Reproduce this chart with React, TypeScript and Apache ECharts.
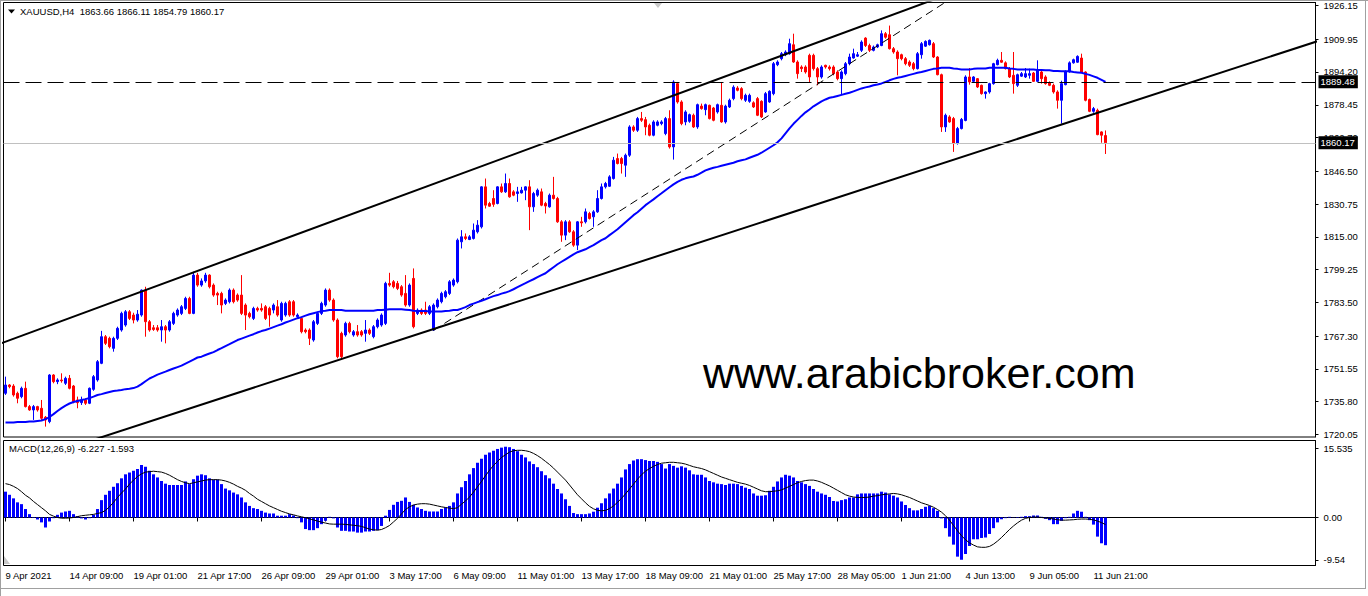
import React, { useEffect, useRef } from "react";
import * as echarts from "echarts";

// ---------------- data ----------------
const symbolName = "XAUUSD,H4";

const open = [
  1739.8, 1743.8, 1743.3, 1739.8, 1738.2, 1742.2, 1733.4, 1731.8, 1733.4, 1732.6,
  1728.3, 1726.2, 1748.6, 1745.4, 1746.2, 1744.6, 1747.0, 1743.3, 1736.6, 1735.3,
  1736.6, 1735.0, 1741.7, 1746.2, 1754.2, 1767.0, 1766.2, 1761.4, 1766.2, 1770.2,
  1772.6, 1779.0, 1777.4, 1775.0, 1777.4, 1789.4, 1774.2, 1771.3, 1771.3, 1770.2,
  1771.8, 1770.2, 1773.4, 1777.4, 1778.2, 1780.6, 1785.4, 1778.2, 1796.6, 1791.8,
  1793.8, 1796.6, 1791.8, 1787.8, 1787.8, 1783.0, 1783.8, 1789.4, 1787.0, 1787.0,
  1782.2, 1778.2, 1775.8, 1780.6, 1780.6, 1781.4, 1780.6, 1779.8, 1781.4, 1775.0,
  1777.4, 1783.8, 1783.8, 1776.6, 1775.8, 1770.2, 1770.2, 1765.4, 1773.4, 1778.2,
  1782.2, 1789.4, 1784.6, 1775.0, 1768.6, 1767.8, 1773.4, 1767.8, 1769.4, 1769.4,
  1768.6, 1770.2, 1767.0, 1771.8, 1772.6, 1773.4, 1792.6, 1793.4, 1792.6, 1791.0,
  1787.8, 1782.2, 1795.0, 1778.2, 1779.8, 1779.8, 1778.2, 1770.2, 1781.4, 1783.8,
  1786.2, 1787.8, 1791.8, 1793.4, 1812.6, 1815.0, 1813.7, 1814.2, 1817.4, 1819.8,
  1839.0, 1831.0, 1833.4, 1831.0, 1839.0, 1836.6, 1840.6, 1836.6, 1835.8, 1836.1,
  1837.4, 1839.0, 1829.4, 1835.0, 1836.6, 1831.0, 1829.4, 1835.0, 1833.4, 1822.2,
  1815.8, 1822.2, 1817.4, 1811.0, 1822.2, 1822.2, 1826.2, 1824.6, 1827.0, 1833.4,
  1839.0, 1839.3, 1843.0, 1852.6, 1852.6, 1849.4, 1854.2, 1867.8, 1866.2, 1871.8,
  1871.3, 1868.6, 1863.8, 1868.6, 1869.4, 1864.6, 1871.8, 1858.2, 1888.6, 1879.8,
  1870.2, 1870.5, 1873.4, 1867.8, 1877.8, 1876.1, 1878.2, 1876.9, 1875.0, 1878.2,
  1870.2, 1877.4, 1881.4, 1886.5, 1886.2, 1880.6, 1880.1, 1879.4, 1881.4, 1880.1,
  1875.0, 1879.8, 1883.8, 1897.7, 1900.6, 1902.5, 1903.0, 1907.3, 1899.0, 1896.6,
  1896.6, 1902.2, 1902.2, 1895.8, 1891.8, 1897.4, 1896.6, 1896.6, 1894.2, 1891.0,
  1893.4, 1898.2, 1900.9, 1901.8, 1904.6, 1910.5, 1906.9, 1904.6, 1906.2, 1906.9,
  1912.6, 1912.1, 1905.4, 1903.8, 1902.5, 1900.6, 1899.0, 1898.2, 1895.8, 1902.5,
  1906.6, 1907.3, 1907.8, 1901.4, 1892.9, 1867.8, 1872.6, 1871.8, 1859.8, 1867.0,
  1870.9, 1891.8, 1889.7, 1891.0, 1887.8, 1883.8, 1884.6, 1888.6, 1897.7, 1899.8,
  1898.6, 1895.8, 1892.6, 1887.8, 1892.2, 1891.8, 1892.6, 1893.7, 1889.7, 1894.2,
  1891.8, 1889.0, 1887.8, 1884.6, 1880.6, 1888.1, 1894.2, 1898.6, 1898.9, 1900.9,
  1894.2, 1881.0, 1875.3, 1875.8, 1865.4, 1863.66,
];

const high = [
  1747.8, 1744.2, 1744.2, 1740.6, 1743.0, 1745.4, 1734.2, 1734.2, 1733.8, 1736.6,
  1728.9, 1749.0, 1749.0, 1747.0, 1749.4, 1747.8, 1748.6, 1743.8, 1738.2, 1738.2,
  1737.4, 1742.6, 1748.6, 1755.8, 1769.8, 1767.8, 1767.0, 1767.0, 1771.8, 1779.0,
  1779.8, 1779.8, 1778.5, 1779.8, 1789.7, 1791.0, 1775.0, 1772.6, 1772.6, 1775.0,
  1772.6, 1775.0, 1779.0, 1780.6, 1782.2, 1786.2, 1786.2, 1798.2, 1797.7, 1795.0,
  1797.7, 1797.0, 1792.6, 1788.6, 1788.6, 1785.4, 1790.2, 1790.2, 1787.8, 1796.6,
  1783.0, 1779.0, 1781.4, 1781.4, 1783.0, 1782.2, 1781.4, 1783.0, 1784.6, 1783.8,
  1783.8, 1784.6, 1784.6, 1778.2, 1776.6, 1771.0, 1771.0, 1775.0, 1779.0, 1783.8,
  1790.2, 1790.2, 1785.4, 1775.8, 1769.4, 1774.2, 1774.2, 1770.2, 1772.6, 1770.2,
  1775.0, 1771.0, 1772.6, 1775.8, 1778.2, 1793.4, 1797.7, 1794.2, 1793.8, 1791.8,
  1796.6, 1792.6, 1799.8, 1780.6, 1780.6, 1783.8, 1782.2, 1783.0, 1785.4, 1788.6,
  1789.4, 1794.2, 1795.0, 1814.2, 1818.2, 1816.6, 1815.8, 1821.4, 1823.0, 1839.3,
  1843.0, 1831.8, 1837.4, 1839.3, 1840.6, 1845.4, 1843.0, 1837.4, 1839.0, 1839.0,
  1839.3, 1842.2, 1836.6, 1838.2, 1838.2, 1831.8, 1835.8, 1843.8, 1834.2, 1823.0,
  1823.0, 1823.0, 1818.2, 1822.6, 1824.6, 1828.6, 1827.0, 1827.8, 1837.4, 1840.6,
  1841.4, 1844.6, 1853.4, 1855.0, 1853.4, 1855.0, 1868.6, 1868.6, 1872.6, 1875.0,
  1872.6, 1869.4, 1871.0, 1871.0, 1871.0, 1872.6, 1875.8, 1890.2, 1889.4, 1880.6,
  1875.8, 1874.2, 1874.2, 1879.0, 1879.0, 1879.0, 1878.5, 1877.4, 1879.0, 1889.4,
  1878.5, 1881.4, 1887.8, 1887.4, 1886.9, 1883.8, 1883.8, 1880.1, 1882.2, 1880.6,
  1884.6, 1885.4, 1899.0, 1899.8, 1903.8, 1904.6, 1910.2, 1912.6, 1899.8, 1897.4,
  1897.4, 1903.0, 1903.0, 1896.6, 1897.4, 1897.7, 1897.4, 1897.4, 1895.0, 1895.0,
  1899.0, 1903.0, 1905.4, 1903.8, 1909.4, 1910.9, 1907.8, 1906.9, 1907.8, 1914.2,
  1913.4, 1916.5, 1906.2, 1904.6, 1903.0, 1901.4, 1899.8, 1899.0, 1903.8, 1908.6,
  1909.4, 1909.8, 1908.6, 1901.8, 1893.4, 1874.2, 1873.4, 1872.6, 1867.8, 1872.1,
  1892.6, 1896.1, 1892.2, 1891.3, 1888.1, 1884.9, 1889.0, 1898.6, 1900.6, 1903.8,
  1899.3, 1896.6, 1903.8, 1893.4, 1894.2, 1896.1, 1895.8, 1894.2, 1899.8, 1894.9,
  1892.6, 1889.7, 1888.6, 1885.4, 1890.0, 1895.0, 1899.3, 1900.6, 1902.2, 1903.0,
  1894.5, 1881.4, 1877.4, 1876.6, 1865.7, 1866.11,
];

const low = [
  1739.0, 1742.2, 1738.2, 1735.0, 1737.4, 1733.0, 1731.4, 1727.0, 1731.0, 1727.0,
  1723.8, 1725.4, 1744.6, 1744.2, 1744.9, 1743.8, 1741.7, 1735.0, 1732.6, 1734.2,
  1734.2, 1734.6, 1741.0, 1745.4, 1753.8, 1763.0, 1761.4, 1759.8, 1765.4, 1769.4,
  1771.8, 1775.0, 1773.4, 1774.2, 1776.6, 1767.0, 1769.4, 1769.8, 1769.4, 1764.6,
  1763.8, 1769.4, 1772.6, 1776.6, 1777.4, 1779.8, 1777.8, 1777.8, 1791.0, 1791.0,
  1792.9, 1790.2, 1786.2, 1782.2, 1778.2, 1782.2, 1783.0, 1783.0, 1783.8, 1777.4,
  1770.2, 1775.8, 1775.0, 1779.0, 1779.0, 1775.0, 1771.8, 1778.2, 1776.6, 1774.2,
  1776.6, 1776.6, 1776.6, 1775.8, 1768.6, 1768.6, 1763.0, 1764.6, 1772.6, 1777.4,
  1781.4, 1783.8, 1774.2, 1756.6, 1755.8, 1767.0, 1768.6, 1767.0, 1767.0, 1767.0,
  1764.6, 1767.8, 1766.2, 1771.0, 1771.8, 1772.6, 1791.0, 1790.2, 1789.4, 1786.2,
  1781.4, 1781.4, 1771.0, 1777.4, 1777.4, 1777.4, 1777.4, 1769.8, 1780.6, 1783.0,
  1785.4, 1787.0, 1791.0, 1792.6, 1809.4, 1813.4, 1813.4, 1813.7, 1816.6, 1819.0,
  1828.6, 1829.4, 1829.4, 1830.6, 1836.1, 1836.1, 1833.8, 1834.5, 1831.8, 1835.8,
  1832.6, 1818.2, 1827.0, 1834.2, 1829.7, 1826.2, 1829.0, 1832.9, 1821.7, 1812.6,
  1813.4, 1816.9, 1810.2, 1808.6, 1819.8, 1821.4, 1823.3, 1819.8, 1826.5, 1832.9,
  1838.2, 1839.0, 1842.5, 1849.8, 1845.4, 1843.8, 1853.4, 1865.4, 1865.4, 1870.2,
  1863.8, 1863.3, 1863.3, 1868.1, 1868.6, 1863.8, 1857.4, 1852.1, 1879.0, 1868.6,
  1868.6, 1869.8, 1867.3, 1866.9, 1876.1, 1873.4, 1871.4, 1870.5, 1874.2, 1869.8,
  1869.4, 1876.9, 1880.6, 1884.9, 1880.6, 1879.8, 1879.4, 1876.9, 1873.0, 1872.1,
  1874.6, 1879.4, 1883.0, 1897.0, 1899.8, 1901.8, 1902.5, 1898.6, 1891.0, 1894.2,
  1893.4, 1889.4, 1894.9, 1887.8, 1891.0, 1895.8, 1894.9, 1892.6, 1890.2, 1883.0,
  1892.6, 1897.4, 1900.6, 1901.4, 1903.8, 1906.2, 1903.8, 1904.1, 1905.7, 1906.6,
  1910.2, 1905.0, 1903.0, 1892.6, 1899.8, 1897.4, 1896.6, 1895.0, 1895.4, 1900.6,
  1906.2, 1906.9, 1900.9, 1892.6, 1865.4, 1865.4, 1869.8, 1855.8, 1859.3, 1866.6,
  1870.5, 1888.1, 1889.4, 1886.5, 1883.3, 1881.4, 1883.8, 1888.1, 1897.4, 1898.6,
  1895.4, 1891.3, 1883.8, 1887.0, 1891.8, 1891.3, 1891.0, 1889.4, 1889.4, 1888.6,
  1888.1, 1887.4, 1883.8, 1876.6, 1869.4, 1887.8, 1893.9, 1898.2, 1898.6, 1893.9,
  1880.1, 1874.9, 1874.6, 1863.8, 1860.2, 1854.79,
];

const close = [
  1743.8, 1743.0, 1739.0, 1737.4, 1742.2, 1733.4, 1731.8, 1733.4, 1731.8, 1727.8,
  1727.0, 1748.6, 1745.4, 1746.2, 1745.8, 1747.0, 1742.2, 1735.8, 1735.3, 1736.6,
  1735.0, 1742.2, 1747.8, 1755.0, 1767.0, 1763.8, 1762.2, 1766.2, 1771.0, 1778.2,
  1779.0, 1775.8, 1775.0, 1777.8, 1789.4, 1774.2, 1770.2, 1770.5, 1770.2, 1771.8,
  1770.2, 1774.2, 1778.2, 1779.8, 1781.4, 1785.4, 1778.2, 1796.6, 1791.8, 1793.8,
  1796.6, 1791.0, 1787.0, 1787.0, 1782.2, 1784.6, 1789.4, 1783.8, 1784.6, 1778.2,
  1777.4, 1776.6, 1780.6, 1779.8, 1779.8, 1775.8, 1777.4, 1782.2, 1777.4, 1783.0,
  1783.0, 1777.4, 1777.4, 1777.4, 1769.4, 1769.4, 1766.2, 1774.2, 1778.2, 1783.0,
  1789.4, 1784.6, 1775.0, 1757.4, 1757.4, 1773.4, 1769.4, 1769.4, 1767.8, 1767.8,
  1770.2, 1768.6, 1771.8, 1775.0, 1777.4, 1792.6, 1791.8, 1791.0, 1790.2, 1787.0,
  1782.2, 1791.8, 1771.8, 1779.8, 1778.2, 1778.2, 1781.4, 1782.2, 1784.6, 1787.8,
  1788.6, 1793.4, 1794.2, 1813.4, 1815.0, 1814.2, 1815.0, 1818.2, 1820.6, 1839.0,
  1830.2, 1829.7, 1830.6, 1839.0, 1836.6, 1840.6, 1834.2, 1835.0, 1836.6, 1837.4,
  1839.0, 1829.4, 1835.8, 1837.4, 1830.2, 1829.8, 1835.0, 1833.4, 1822.2, 1815.8,
  1822.2, 1817.4, 1811.0, 1822.2, 1821.7, 1827.0, 1823.8, 1827.0, 1833.4, 1839.0,
  1840.6, 1843.8, 1851.8, 1850.2, 1850.2, 1854.2, 1867.8, 1866.2, 1871.8, 1871.0,
  1867.8, 1863.8, 1870.2, 1870.2, 1870.2, 1871.8, 1858.2, 1889.4, 1879.8, 1869.4,
  1875.0, 1873.7, 1867.8, 1878.5, 1876.6, 1878.5, 1871.8, 1871.0, 1878.5, 1870.2,
  1877.8, 1880.6, 1886.9, 1885.4, 1881.4, 1883.0, 1883.0, 1877.4, 1873.4, 1872.6,
  1883.8, 1884.9, 1898.2, 1899.0, 1903.0, 1903.8, 1907.8, 1899.0, 1893.4, 1895.8,
  1894.2, 1891.8, 1895.8, 1891.8, 1896.6, 1896.6, 1895.8, 1893.4, 1891.0, 1894.2,
  1898.2, 1901.4, 1903.0, 1902.5, 1908.6, 1906.9, 1904.6, 1906.2, 1907.3, 1912.6,
  1910.9, 1905.4, 1903.8, 1900.6, 1900.6, 1898.2, 1897.4, 1895.8, 1903.0, 1907.8,
  1908.9, 1909.4, 1901.4, 1892.9, 1867.8, 1873.4, 1870.2, 1859.8, 1867.0, 1871.4,
  1891.8, 1889.4, 1891.8, 1887.0, 1883.8, 1884.6, 1888.6, 1898.2, 1899.8, 1898.9,
  1895.8, 1891.8, 1888.6, 1892.9, 1893.4, 1893.4, 1893.4, 1889.7, 1895.3, 1891.0,
  1888.6, 1887.8, 1884.6, 1880.6, 1888.6, 1894.2, 1898.6, 1900.1, 1901.7, 1894.2,
  1880.6, 1875.3, 1876.6, 1864.1, 1863.8, 1860.17,
];

// moving average (blue line on the price window)
const movingAverage = [
  1725.8, 1725.8, 1725.8, 1726.0, 1726.0, 1726.0, 1726.2, 1726.2, 1726.5, 1726.7,
  1727.4, 1728.4, 1729.8, 1731.3, 1732.7, 1733.9, 1734.9, 1735.6, 1736.1, 1736.6,
  1737.0, 1737.5, 1738.2, 1739.0, 1739.4, 1739.9, 1740.4, 1740.9, 1741.1, 1741.4,
  1741.8, 1742.0, 1742.3, 1743.0, 1744.2, 1745.6, 1746.9, 1747.8, 1748.8, 1749.5,
  1750.2, 1751.0, 1751.7, 1752.4, 1753.1, 1754.1, 1755.0, 1756.0, 1757.0, 1757.4,
  1758.2, 1758.9, 1759.6, 1760.6, 1761.5, 1762.5, 1763.4, 1764.4, 1765.4, 1766.1,
  1766.8, 1767.5, 1768.2, 1769.0, 1769.7, 1770.2, 1770.9, 1771.6, 1772.3, 1773.0,
  1773.8, 1774.5, 1775.2, 1775.9, 1776.4, 1777.1, 1777.8, 1778.3, 1778.8, 1779.3,
  1779.5, 1779.8, 1779.8, 1779.8, 1779.8, 1779.5, 1779.5, 1779.5, 1779.5, 1779.5,
  1779.5, 1779.5, 1779.5, 1779.8, 1779.8, 1780.0, 1780.2, 1780.2, 1780.2, 1780.2,
  1780.0, 1779.8, 1779.5, 1779.3, 1779.3, 1779.3, 1779.1, 1779.1, 1779.1, 1779.1,
  1779.3, 1779.5, 1779.8, 1779.8, 1780.5, 1781.2, 1782.2, 1782.9, 1783.6, 1784.3,
  1785.0, 1785.8, 1786.5, 1787.0, 1787.7, 1788.2, 1788.9, 1789.8, 1790.8, 1791.8,
  1792.7, 1793.7, 1794.6, 1795.6, 1796.6, 1797.5, 1799.0, 1800.4, 1801.8, 1803.0,
  1804.2, 1805.4, 1806.6, 1807.6, 1808.3, 1809.0, 1810.0, 1811.0, 1812.2, 1813.4,
  1814.3, 1815.8, 1817.2, 1818.6, 1820.3, 1822.0, 1823.7, 1825.4, 1826.8, 1828.5,
  1830.2, 1831.6, 1833.0, 1834.5, 1835.9, 1837.4, 1838.8, 1840.2, 1841.4, 1842.4,
  1843.1, 1843.6, 1844.0, 1844.8, 1845.8, 1846.9, 1847.6, 1848.2, 1848.6, 1849.1,
  1849.6, 1850.1, 1850.6, 1851.3, 1851.8, 1852.2, 1853.0, 1853.7, 1854.4, 1855.4,
  1856.6, 1857.8, 1859.0, 1860.4, 1862.3, 1864.7, 1867.1, 1869.3, 1871.2, 1873.1,
  1874.8, 1876.2, 1877.7, 1878.9, 1880.1, 1881.0, 1881.8, 1882.2, 1882.7, 1883.2,
  1883.7, 1884.2, 1884.9, 1885.6, 1886.3, 1886.8, 1887.2, 1887.8, 1888.2, 1888.7,
  1889.4, 1890.2, 1890.9, 1891.4, 1891.8, 1892.3, 1892.8, 1893.3, 1893.8, 1894.2,
  1894.7, 1895.2, 1895.7, 1895.9, 1896.2, 1896.2, 1896.2, 1895.9, 1895.7, 1895.4,
  1895.4, 1895.4, 1895.7, 1895.9, 1895.9, 1895.9, 1896.2, 1896.2, 1896.2, 1896.2,
  1896.2, 1895.9, 1895.7, 1895.4, 1895.4, 1895.4, 1895.4, 1895.4, 1895.2, 1895.2,
  1895.0, 1895.0, 1894.7, 1894.7, 1894.5, 1894.5, 1894.5, 1894.2, 1894.0, 1893.8,
  1893.3, 1892.8, 1892.1, 1891.4, 1890.4, 1889.4,
];

// MACD(12,26,9) main values (histogram) and signal line
const macdMain = [
  5.8, 5.1, 4.3, 3.4, 3.0, 1.9, 0.75, -0.1, -0.45, -1.1,
  -2.25, -0.9, -0.15, 0.6, 1.1, 1.35, 1.5, 0.75, 0.3, -0.2,
  -0.45, -0.15, 0.6, 1.9, 3.9, 5.1, 6.0, 6.9, 7.7, 8.8,
  9.7, 10.1, 10.5, 10.9, 11.8, 11.4, 10.5, 9.7, 9.0, 8.2,
  7.6, 7.3, 7.3, 7.3, 7.3, 8.1, 7.5, 8.6, 9.4, 9.7,
  9.5, 8.8, 8.5, 8.5, 7.5, 6.5, 6.1, 5.6, 5.2, 4.5,
  3.4, 2.6, 2.1, 1.9, 1.5, 1.1, 0.9, 0.9, 0.4, 0.4,
  0.4, 0.75, 0.45, -0.15, -1.1, -2.6, -2.85, -2.85, -2.4, -1.5,
  -0.75, 0.15, -0.2, -2.25, -3.0, -3.0, -3.15, -3.15, -3.4, -3.4,
  -3.15, -3.15, -3.0, -2.85, -1.9, 0.4, 1.7, 2.85, 3.5, 3.75,
  4.5, 3.5, 2.85, 2.25, 1.9, 1.5, 1.35, 1.35, 1.35, 1.9,
  2.25, 2.6, 3.4, 5.4, 6.8, 8.2, 9.7, 11.1, 12.3, 13.2,
  14.1, 14.6, 15.0, 15.4, 15.7, 15.9, 15.8, 15.4, 14.9, 14.1,
  13.5, 12.6, 12.0, 11.3, 10.4, 9.5, 8.8, 7.6, 6.4, 5.4,
  4.1, 2.6, 1.0, 0.75, 0.75, 0.75, 0.9, 1.3, 2.2, 3.2,
  4.3, 5.4, 6.5, 7.6, 9.0, 10.8, 12.0, 12.8, 13.1, 13.1,
  12.9, 12.7, 12.7, 12.5, 12.0, 11.0, 12.0, 11.6, 11.2, 11.5,
  11.2, 10.6, 9.7, 9.6, 9.6, 9.0, 8.2, 7.9, 7.6, 7.5,
  7.3, 7.6, 7.6, 7.5, 7.1, 6.7, 6.4, 5.4, 4.9, 4.9,
  5.0, 6.0, 6.9, 8.1, 9.0, 9.6, 9.4, 9.0, 8.2, 7.9,
  7.5, 7.1, 6.4, 5.8, 5.4, 5.1, 4.6, 3.7, 3.6, 3.9,
  4.1, 4.5, 4.5, 5.2, 5.4, 5.4, 5.4, 5.4, 5.4, 5.8,
  5.6, 5.2, 4.9, 4.5, 3.6, 2.8, 2.1, 1.6, 1.6, 1.9,
  2.4, 2.6, 2.1, 1.5, -0.2, -2.4, -4.3, -6.1, -8.8, -9.5,
  -8.2, -6.4, -4.9, -4.9, -4.6, -4.5, -3.7, -2.4, -1.1, -0.4,
  -0.15, 0.15, 0.05, -0.1, 0.15, 0.3, 0.3, 0.45, 0.45, 0.15,
  -0.3, -0.6, -1.5, -1.5, -0.75, -0.15, 0.15, 0.9, 1.5, 1.3,
  0.15, -0.6, -1.6, -4.3, -5.8, -6.227,
];

const macdSignal = [
  7.6, 7.4, 7.0, 6.5, 5.8, 5.0, 4.4, 3.6, 2.9, 2.2,
  1.5, 0.7, 0.3, 0.0, -0.15, -0.15, -0.1, 0.0, 0.2, 0.4,
  0.5, 0.6, 0.7, 0.9, 1.1, 1.6, 2.4, 3.4, 4.5, 5.5,
  6.4, 7.5, 8.4, 9.2, 9.8, 10.2, 10.3, 10.4, 10.3, 10.2,
  9.9, 9.5, 9.0, 8.5, 8.1, 7.8, 7.6, 7.8, 8.0, 8.2,
  8.4, 8.5, 8.5, 8.5, 8.4, 8.2, 7.9, 7.5, 7.0, 6.6,
  6.1, 5.4, 4.8, 4.1, 3.6, 3.1, 2.6, 2.2, 1.8, 1.4,
  1.1, 0.8, 0.6, 0.35, 0.15, -0.05, -0.3, -0.55, -0.8, -1.05,
  -1.25, -1.45, -1.5, -1.5, -1.5, -1.55, -1.65, -1.75, -1.85, -2.0,
  -2.3, -2.6, -2.75, -2.85, -2.7, -2.3, -1.8, -1.0, -0.2, 0.8,
  1.8, 2.4, 2.8, 3.0, 3.1, 3.1, 3.0, 2.8, 2.6, 2.4,
  2.25, 2.1, 2.0, 2.2, 3.0, 3.7, 4.6, 5.7, 6.9, 8.1,
  9.4, 10.6, 11.7, 12.6, 13.5, 14.1, 14.7, 15.0, 15.1, 15.1,
  15.0, 14.8, 14.4, 13.9, 13.3, 12.6, 11.9, 11.1, 10.2, 9.3,
  8.4, 7.3, 6.2, 5.1, 4.2, 3.3, 2.5, 1.95, 1.6, 1.5,
  1.6, 2.0, 2.6, 3.4, 4.3, 5.3, 6.4, 7.5, 8.6, 9.6,
  10.4, 11.0, 11.5, 11.9, 12.2, 12.3, 12.4, 12.4, 12.3, 12.2,
  12.0, 11.7, 11.4, 11.2, 11.0, 10.7, 10.3, 9.9, 9.5, 9.1,
  8.8, 8.5, 8.2, 7.9, 7.7, 7.5, 7.2, 6.8, 6.4, 6.0,
  5.8, 5.8, 5.9, 6.0, 6.2, 6.6, 7.0, 7.4, 7.8, 8.1,
  8.3, 8.4, 8.4, 8.2, 7.9, 7.5, 7.1, 6.6, 6.1, 5.6,
  5.1, 4.8, 4.6, 4.5, 4.5, 4.5, 4.6, 4.8, 4.9, 5.1,
  5.2, 5.3, 5.4, 5.3, 5.1, 4.8, 4.5, 4.1, 3.7, 3.3,
  3.0, 2.7, 2.3, 1.8, 1.2, 0.4, -0.6, -1.8, -3.0, -4.1,
  -5.0, -5.7, -6.2, -6.6, -6.7, -6.7, -6.5, -6.0, -5.3, -4.5,
  -3.6, -2.7, -1.9, -1.2, -0.6, -0.2, 0.0, 0.1, 0.1, 0.0,
  -0.1, -0.2, -0.35, -0.5, -0.6, -0.6, -0.55, -0.5, -0.4, -0.35,
  -0.35, -0.4, -0.55, -0.8, -1.15, -1.593,
];

const timeLabels = [
  "9 Apr 2021", "14 Apr 09:00", "19 Apr 01:00", "21 Apr 17:00", "26 Apr 09:00",
  "29 Apr 01:00", "3 May 17:00", "6 May 09:00", "11 May 01:00", "13 May 17:00",
  "18 May 09:00", "21 May 01:00", "25 May 17:00", "28 May 05:00", "1 Jun 21:00",
  "4 Jun 13:00", "9 Jun 05:00", "11 Jun 21:00",
];
const barsPerLabel = 16;

const priceTicks = [
  1926.15, 1909.95, 1894.2, 1878.45, 1862.7, 1846.5, 1830.75, 1815.0, 1799.25,
  1783.5, 1767.3, 1751.55, 1735.8, 1720.05,
];
const macdTicks = [15.535, 0, -9.54];
const macdTickText = ["15.535", "0.00", "-9.54"];

const horizontalLevel = 1889.48;
const bidPrice = 1860.17;

// trend lines as [bar index, price]
const upperChannel = [[-2, 1763.2], [240, 1934.6]];
const lowerChannel = [[20, 1716.2], [328, 1909.0]];
const innerDashed = [[107, 1770.0], [240, 1933.9]];

const watermark = "www.arabicbroker.com";

// ---------------- chart ----------------
const FONT = '"Liberation Sans", Arial, sans-serif';
const SLOTS = 328;

export default function App() {
  const ref = useRef<HTMLDivElement>(null);

  useEffect(() => {
    if (!ref.current) return;
    const chart = echarts.init(ref.current, null, { renderer: "svg" });
    const slots = Array.from({ length: SLOTS }, (_, i) => String(i));
    const candles = open.map((o, i) => [o, close[i], low[i], high[i]]);
    const last = close.length - 1;
    const header = `${symbolName}  ${open[last].toFixed(2)} ${high[last].toFixed(2)} ${low[last].toFixed(2)} ${close[last].toFixed(2)}`;
    const macdHeader = `MACD(12,26,9) ${macdMain[last].toFixed(3)} ${macdSignal[last].toFixed(3)}`;
    const showTick = (i: number) => i % barsPerLabel === 0 && i / barsPerLabel < timeLabels.length;

    const priceLabel = {
      show: true,
      position: "end",
      distance: 3,
      formatter: (p: any) => Number(p.value).toFixed(2),
      backgroundColor: "#000",
      color: "#fff",
      padding: [2, 3, 1, 2],
      fontSize: 9.5,
      fontFamily: FONT,
    };

    const option: any = {
      animation: false,
      backgroundColor: "#ffffff",
      grid: [
        { left: 3.5, top: 2.5, width: 1312, height: 434.5 },
        { left: 3.5, top: 440.5, width: 1312, height: 125 },
      ],
      xAxis: [
        {
          type: "category",
          gridIndex: 0,
          data: slots,
          boundaryGap: true,
          axisLine: { show: false },
          axisTick: { show: false },
          axisLabel: { show: false },
          splitLine: { show: false },
        },
        {
          type: "category",
          gridIndex: 1,
          data: slots,
          boundaryGap: true,
          axisLine: { show: true, lineStyle: { color: "#000", width: 1 } },
          axisTick: {
            show: true,
            alignWithLabel: true,
            interval: (i: number) => showTick(i),
            length: 4,
            lineStyle: { color: "#000" },
          },
          axisLabel: {
            interval: (i: number) => showTick(i),
            formatter: (_v: string, idx: number) => timeLabels[idx / barsPerLabel] ?? "",
            align: "left",
            margin: 5,
            fontSize: 9.5,
            fontFamily: FONT,
            color: "#000",
          },
          splitLine: { show: false },
        },
      ],
      yAxis: [
        {
          type: "value",
          gridIndex: 0,
          position: "right",
          min: 1718.8,
          max: 1927.59,
          splitLine: { show: false },
          axisLine: { show: true, lineStyle: { color: "#000" } },
          axisTick: { show: true, customValues: priceTicks, length: 3, lineStyle: { color: "#000" } },
          axisLabel: {
            customValues: priceTicks,
            formatter: (v: number) => v.toFixed(2),
            margin: 8,
            fontSize: 9.5,
            fontFamily: FONT,
            color: "#000",
          },
        },
        {
          type: "value",
          gridIndex: 1,
          position: "right",
          min: -10.79,
          max: 17.3,
          splitLine: { show: false },
          axisLine: { show: true, lineStyle: { color: "#000" } },
          axisTick: { show: true, customValues: macdTicks, length: 3, lineStyle: { color: "#000" } },
          axisLabel: {
            customValues: macdTicks,
            formatter: (v: number) => {
              const k = macdTicks.findIndex((t) => Math.abs(t - v) < 1e-6);
              return k >= 0 ? macdTickText[k] : "";
            },
            margin: 8,
            fontSize: 9.5,
            fontFamily: FONT,
            color: "#000",
          },
        },
      ],
      series: [
        {
          type: "candlestick",
          xAxisIndex: 0,
          yAxisIndex: 0,
          data: candles,
          barWidth: 2,
          silent: true,
          itemStyle: {
            color: "#0000ff",
            color0: "#ff0000",
            borderColor: "#0000ff",
            borderColor0: "#ff0000",
            borderWidth: 1,
          },
          markLine: {
            silent: true,
            symbol: ["none", "none"],
            data: [
              {
                yAxis: bidPrice,
                lineStyle: { color: "#c0c0c0", type: "solid", width: 1 },
                label: priceLabel,
              },
              {
                yAxis: horizontalLevel,
                lineStyle: { color: "#000", type: [16, 6], width: 1 },
                label: priceLabel,
              },
            ],
          },
        },
        {
          type: "line",
          xAxisIndex: 0,
          yAxisIndex: 0,
          data: innerDashed,
          symbol: "none",
          silent: true,
          clip: true,
          lineStyle: { color: "#000", width: 1, type: [8, 5] },
        },
        {
          type: "line",
          xAxisIndex: 0,
          yAxisIndex: 0,
          data: upperChannel,
          symbol: "none",
          silent: true,
          clip: true,
          lineStyle: { color: "#000", width: 2 },
        },
        {
          type: "line",
          xAxisIndex: 0,
          yAxisIndex: 0,
          data: lowerChannel,
          symbol: "none",
          silent: true,
          clip: true,
          lineStyle: { color: "#000", width: 2 },
        },
        {
          type: "line",
          xAxisIndex: 0,
          yAxisIndex: 0,
          data: movingAverage,
          symbol: "none",
          silent: true,
          z: 4,
          lineStyle: { color: "#0000ff", width: 2 },
        },
        {
          type: "bar",
          xAxisIndex: 1,
          yAxisIndex: 1,
          data: macdMain,
          barWidth: 3,
          silent: true,
          itemStyle: { color: "#0000ff" },
        },
        {
          type: "line",
          xAxisIndex: 1,
          yAxisIndex: 1,
          data: macdSignal,
          symbol: "none",
          silent: true,
          z: 4,
          lineStyle: { color: "#000", width: 1 },
        },
      ],
      graphic: [
        // window frames
        { type: "rect", silent: true, shape: { x: 3.5, y: 2.5, width: 1312, height: 434.5 }, style: { fill: "none", stroke: "#000", lineWidth: 1 } },
        { type: "rect", silent: true, shape: { x: 3.5, y: 440.5, width: 1312, height: 125 }, style: { fill: "none", stroke: "#000", lineWidth: 1 } },
        // outer window border
        { type: "line", silent: true, shape: { x1: 0.5, y1: 0, x2: 0.5, y2: 596 }, style: { stroke: "#a0a0a0", lineWidth: 1 } },
        { type: "line", silent: true, shape: { x1: 0, y1: 0.5, x2: 1368, y2: 0.5 }, style: { stroke: "#a0a0a0", lineWidth: 1 } },
        { type: "line", silent: true, shape: { x1: 1365.5, y1: 0, x2: 1365.5, y2: 589 }, style: { stroke: "#a0a0a0", lineWidth: 1 } },
        { type: "line", silent: true, shape: { x1: 0, y1: 588.5, x2: 1366, y2: 588.5 }, style: { stroke: "#a0a0a0", lineWidth: 1 } },
        // chart shift marker and corner marker
        { type: "polygon", silent: true, shape: { points: [[654, 3], [662, 3], [658, 8]] }, style: { fill: "#c8c8c8" } },
        { type: "polygon", silent: true, shape: { points: [[4, 556], [4, 564], [10, 564]] }, style: { fill: "#c8c8c8" } },
        // header
        { type: "polygon", silent: true, shape: { points: [[8, 9.5], [15, 9.5], [11.5, 13.5]] }, style: { fill: "#000" } },
        {
          type: "text",
          silent: true,
          x: 20,
          y: 11.5,
          style: { text: header, fill: "#000", font: `9.5px ${FONT}`, textVerticalAlign: "middle", verticalAlign: "middle" },
        },
        {
          type: "text",
          silent: true,
          x: 9,
          y: 448.5,
          style: { text: macdHeader, fill: "#000", font: `9.5px ${FONT}`, textVerticalAlign: "middle", verticalAlign: "middle" },
        },
        {
          type: "text",
          silent: true,
          x: 703,
          y: 373,
          z: 10,
          style: { text: watermark, fill: "#000", font: `43px ${FONT}`, verticalAlign: "middle", textVerticalAlign: "middle" },
        },
      ],
    };

    chart.setOption(option);
    return () => chart.dispose();
  }, []);

  return (
    <div
      ref={ref}
      style={{ position: "absolute", left: 0, top: 0, width: 1368, height: 596, background: "#fff" }}
    />
  );
}
